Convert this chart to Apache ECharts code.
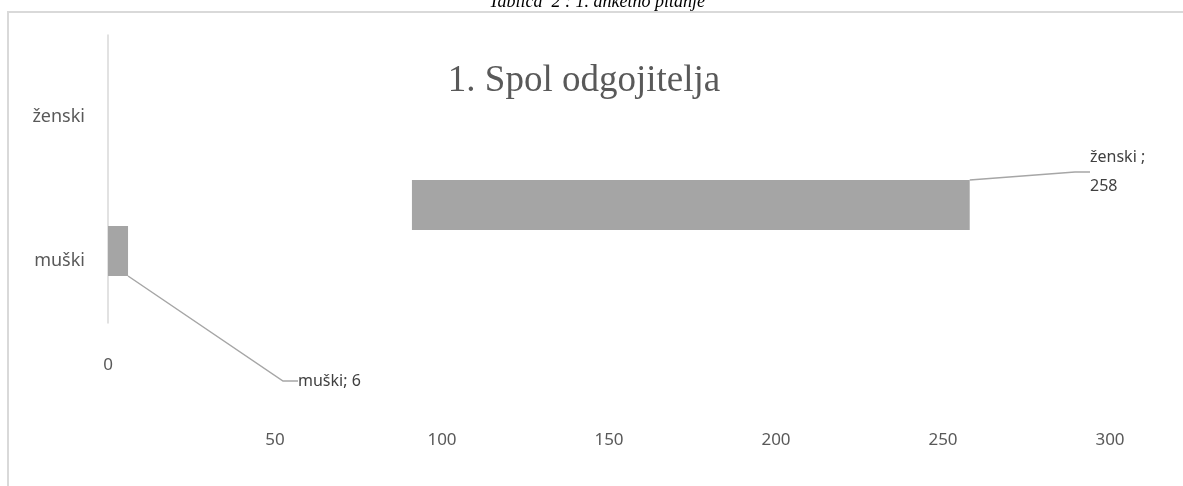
<!DOCTYPE html>
<html>
<head>
<meta charset="utf-8">
<script src="https://cdn.jsdelivr.net/npm/echarts@6/dist/echarts.min.js"></script>
<style>html,body{margin:0;padding:0;background:#fff;}#c{width:1183px;height:486px;}</style>
</head>
<body>
<div id="c"></div>
<script>
const categories = ['muški', 'ženski'];
const values = [6, 258];
const barStart = [0, 91];
const tickMin = 0, tickMax = 300, tickStep = 50;
const titleText = '1. Spol odgojitelja';
const captionText = 'Tablica  2 : 1. anketno pitanje';

const visible = values.map((v, i) => v - barStart[i]);
const labelPos = [{x: 298, y: 381, align: 'left'}, {x: 1090, y: 172, align: 'left'}];

const chart = echarts.init(document.getElementById('c'));
chart.setOption({
  animation: false,
  backgroundColor: '#fff',
  title: [
    {text: titleText, left: 579, textAlign: 'center', top: 58, textStyle: {fontFamily: 'Liberation Serif', fontSize: 37, fontWeight: 'normal', color: '#595959'}},
    {text: captionText, left: 592, textAlign: 'center', top: -12, textStyle: {fontFamily: 'Liberation Serif', fontStyle: 'italic', fontSize: 18, fontWeight: 'normal', color: '#000'}}
  ],
  graphic: [{type: 'rect', shape: {x: 8, y: 12, width: 1300, height: 600}, style: {fill: 'none', stroke: '#d9d9d9', lineWidth: 2}, silent: true}],
  grid: [
    {left: 108, right: 73, top: 180, height: 96},
    {left: 108, right: 73, top: 35, height: 288}
  ],
  xAxis: [
    {type: 'value', gridIndex: 0, min: tickMin, max: tickMax, interval: tickStep,
     axisLine: {show: false}, axisTick: {show: false}, splitLine: {show: false},
     axisLabel: {showMinLabel: false, margin: 156, fontFamily: 'Noto Sans', fontSize: 17, color: '#595959'}},
    {type: 'value', gridIndex: 0, min: tickMin, max: tickMax, interval: tickStep, position: 'bottom',
     axisLine: {show: false}, axisTick: {show: false}, splitLine: {show: false},
     axisLabel: {customValues: [tickMin], margin: 81, fontFamily: 'Noto Sans', fontSize: 17, color: '#595959'}},
    {type: 'value', gridIndex: 1, min: tickMin, max: tickMax, show: false}
  ],
  yAxis: [
    {type: 'category', gridIndex: 0, data: categories, show: false},
    {type: 'category', gridIndex: 1, data: categories,
     axisLine: {show: true, lineStyle: {color: '#d9d9d9', width: 1.5}}, axisTick: {show: false},
     axisLabel: {margin: 23, verticalAlign: 'top', lineHeight: 20, fontFamily: 'Noto Sans', fontSize: 18, color: '#595959'}}
  ],
  series: [
    {type: 'bar', xAxisIndex: 0, yAxisIndex: 0, stack: 'a', data: barStart, barWidth: 52,
     itemStyle: {color: 'rgba(0,0,0,0)'}, silent: true},
    {type: 'bar', xAxisIndex: 0, yAxisIndex: 0, stack: 'a', data: visible, barWidth: 52,
     itemStyle: {color: '#a5a5a5'},
     label: {show: true, fontFamily: 'Noto Sans', fontSize: 16, color: '#404040', lineHeight: 29,
       formatter: p => p.dataIndex === 0 ? categories[0] + '; ' + values[0] : categories[1] + ' ;\n' + values[1]},
     labelLine: {show: true, length2: 15, lineStyle: {color: '#a6a6a6', width: 1.5}},
     labelLayout: p => ({x: labelPos[p.dataIndex].x, y: labelPos[p.dataIndex].y, align: labelPos[p.dataIndex].align, verticalAlign: 'middle'})}
  ]
});
</script>
</body>
</html>
